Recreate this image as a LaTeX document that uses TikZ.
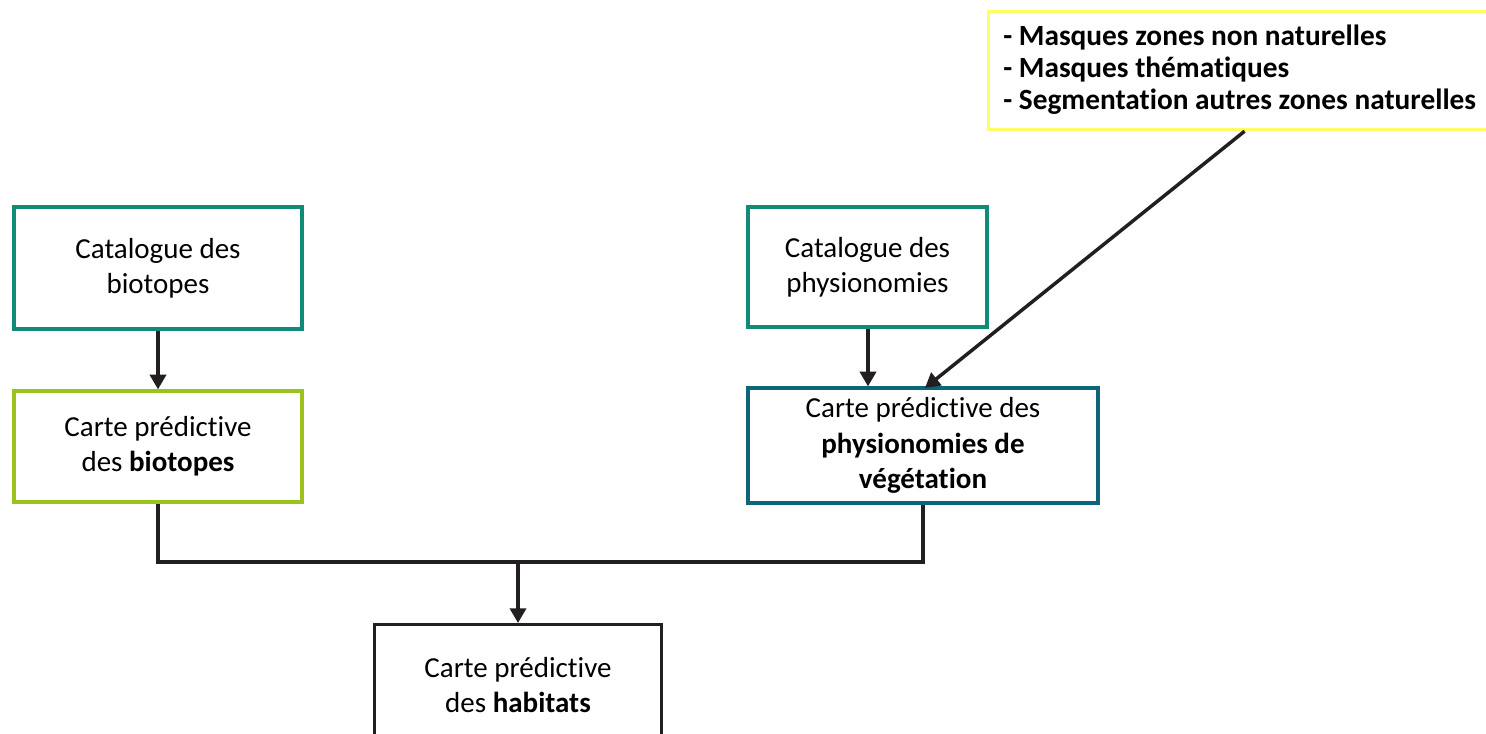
\documentclass[tikz,border=0pt]{standalone}
\usepackage{fontspec}
\setmainfont[RawFeature={-liga}]{Carlito}
\usetikzlibrary{arrows.meta,positioning}
\definecolor{tealc}{HTML}{128A78}
\definecolor{limec}{HTML}{9BC31E}
\definecolor{darkteal}{HTML}{0E6479}
\definecolor{yellowc}{HTML}{FFFF66}
\definecolor{linec}{HTML}{231F20}
\tikzset{
  boxstyle/.style={draw, line width=2.4pt, rectangle, inner sep=0pt, align=center,
    font=\fontsize{21.75pt}{26.5pt}\selectfont, text=black},
  conn/.style={draw=linec, line width=2.6pt},
  arr/.style={conn, -{Triangle[length=11pt,width=12pt]}},
}
\begin{document}
\begin{tikzpicture}[x=0.75pt,y=-0.75pt]
\useasboundingbox (0,0) rectangle (1486,734);
% yellow box
\node[boxstyle, draw=yellowc, minimum width=512*0.75pt, minimum height=118*0.75pt, anchor=north west] (mask) at (987,10) {};
\node[anchor=west, align=left, inner sep=0pt, font=\fontsize{22pt}{24pt}\selectfont\bfseries] (masktxt) at (1003,70)
  {- Masques zones non naturelles\\- Masques thématiques\\- Segmentation autres zones naturelles};
% left column
\node[boxstyle, draw=tealc, minimum width=288*0.75pt, minimum height=122*0.75pt] (catb) at (158,268)
  {Catalogue des\\biotopes};
\node[boxstyle, draw=limec, minimum width=288*0.75pt, minimum height=111*0.75pt] (cartb) at (158,446.5)
  {Carte prédictive\\des \textbf{biotopes}};
% right column
\node[boxstyle, draw=tealc, minimum width=239*0.75pt, minimum height=120*0.75pt] (catp) at (867.5,267)
  {Catalogue des\\physionomies};
\node[boxstyle, draw=darkteal, minimum width=350*0.75pt, minimum height=115*0.75pt] (cartp) at (923,445.5)
  {Carte prédictive des\\\textbf{physionomies de}\\\textbf{végétation}};
% habitats
\node[boxstyle, draw=linec, minimum width=287*0.75pt, minimum height=126*0.75pt, anchor=north] (hab) at (518,623) {};
\node[align=center, inner sep=0pt, font=\fontsize{21.75pt}{26.5pt}\selectfont] (habtxt) at (518,685)
  {Carte prédictive\\des \textbf{habitats}};
% connectors
\draw[arr] (catb.south) -- (cartb.north);
\draw[arr] (catp.south -| 868,0) -- (cartp.north -| 868,0);
\draw[arr] (mask.south) -- (925,388);
\coordinate (junc) at (518,562);
\draw[conn] (cartb.south) |- (junc) -| (cartp.south);
\draw[arr] (junc) -- (hab.north);
\end{tikzpicture}
\end{document}
